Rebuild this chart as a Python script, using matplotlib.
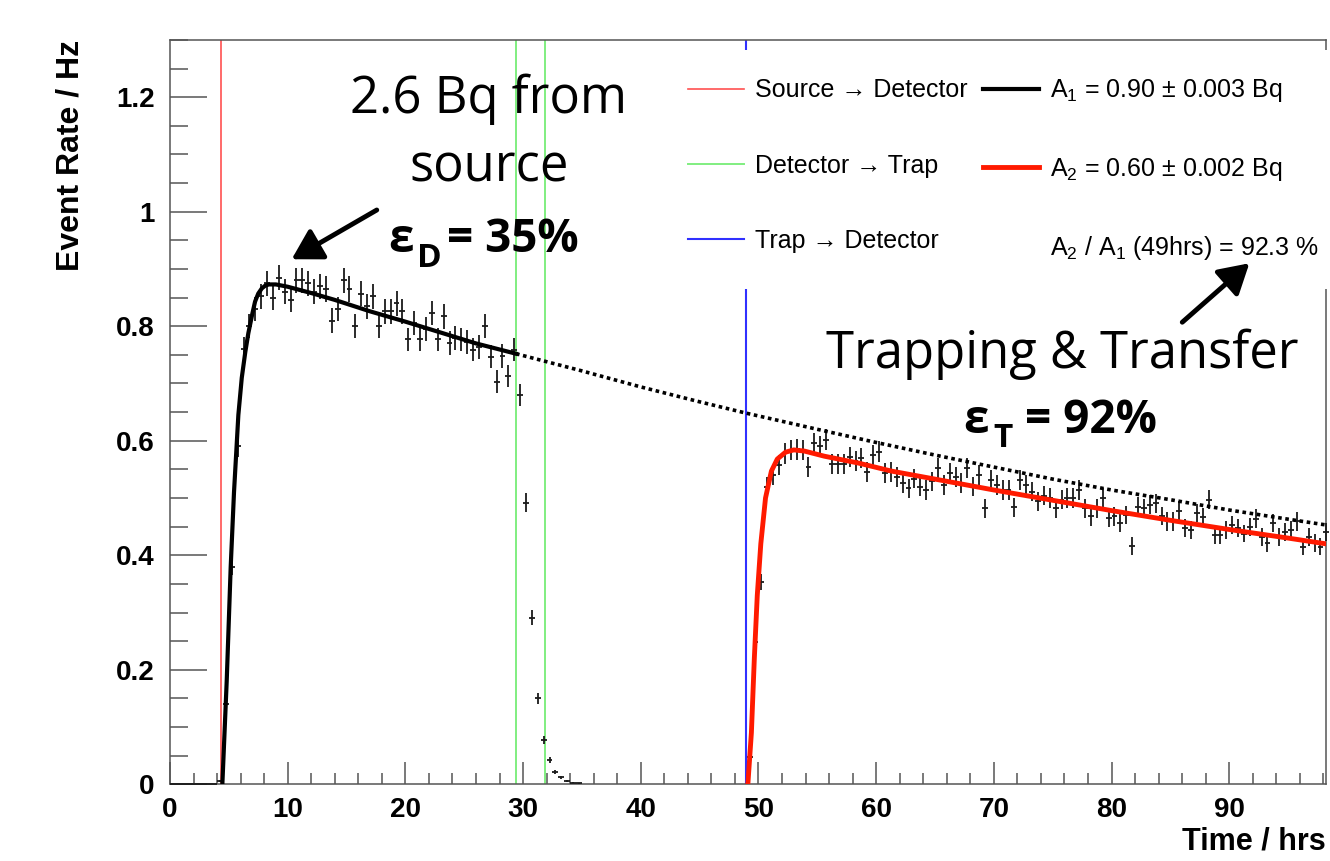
import numpy as np
import matplotlib
matplotlib.use('Agg')
import matplotlib.pyplot as plt
from matplotlib.lines import Line2D
from matplotlib.ticker import MultipleLocator

plt.rcParams['font.family'] = ['Liberation Sans', 'DejaVu Sans']
plt.rcParams['mathtext.fontset'] = 'custom'
plt.rcParams['mathtext.rm'] = 'Liberation Sans'
plt.rcParams['mathtext.it'] = 'Liberation Sans:italic'
plt.rcParams['mathtext.bf'] = 'Liberation Sans:bold'

# ---- histogram data (0.5 hr bins, rate in Hz) ----
bin_width = 0.5
run1_first = 0.25
run1_rate = [0, 0, 0, 0, 0, 0, 0, 0,
             0.005, 0.14, 0.38, 0.59, 0.76, 0.80, 0.83, 0.852, 0.875, 0.85,
             0.885, 0.86, 0.846, 0.88, 0.88, 0.875, 0.86, 0.87, 0.865, 0.81,
             0.83, 0.88, 0.865, 0.80, 0.857, 0.835, 0.852, 0.80, 0.826, 0.826,
             0.84, 0.826, 0.777, 0.806, 0.777, 0.795, 0.823, 0.777, 0.817, 0.771,
             0.779, 0.777, 0.773, 0.759, 0.764, 0.80, 0.747, 0.703, 0.748, 0.713,
             0.759, 0.68, 0.492, 0.291, 0.150, 0.077, 0.042, 0.022, 0.012, 0.006,
             0.003, 0.002]
run2_first = 49.25
run2_rate = [0.048, 0.249, 0.354, 0.519, 0.540, 0.558, 0.578, 0.584, 0.585, 0.584,
             0.554, 0.596, 0.590, 0.602, 0.560, 0.560, 0.560, 0.572, 0.564, 0.570,
             0.546, 0.575, 0.581, 0.543, 0.546, 0.537, 0.526, 0.517, 0.534, 0.520,
             0.514, 0.529, 0.552, 0.523, 0.543, 0.537, 0.526, 0.552, 0.520, 0.540,
             0.482, 0.532, 0.523, 0.514, 0.514, 0.484, 0.532, 0.523, 0.511, 0.494,
             0.504, 0.500, 0.482, 0.497, 0.500, 0.500, 0.514, 0.482, 0.468, 0.482,
             0.500, 0.465, 0.468, 0.456, 0.470, 0.416, 0.485, 0.482, 0.488, 0.491,
             0.469, 0.459, 0.459, 0.478, 0.447, 0.444, 0.474, 0.467, 0.497, 0.435,
             0.435, 0.444, 0.453, 0.447, 0.438, 0.450, 0.464, 0.432, 0.421, 0.456,
             0.432, 0.441, 0.444, 0.459, 0.415, 0.432, 0.421, 0.415, 0.441]

# ---- fitted curves ----
fit1_t = [4.45, 4.82, 5.16, 5.44, 5.81, 6.1, 6.4, 6.66, 7.0, 7.23, 7.5, 7.8, 8.1,
          8.4, 9.0, 10, 12, 14, 17, 20, 23, 26, 29.4]
fit1_r = [0.0, 0.18, 0.38, 0.51, 0.645, 0.71, 0.755, 0.788, 0.822, 0.843, 0.857,
          0.866, 0.871, 0.873, 0.873, 0.869, 0.858, 0.846, 0.826, 0.808, 0.789,
          0.770, 0.752]
extrap_t = [29.4, 35, 40, 45, 49, 55, 60, 65, 70, 75, 80, 85, 90, 95, 98.2]
extrap_r = [0.752, 0.722, 0.694, 0.668, 0.648, 0.620, 0.597, 0.575, 0.554, 0.533,
            0.514, 0.497, 0.479, 0.463, 0.453]
fit2_t = [49.1, 49.4, 49.65, 49.9, 50.2, 50.6, 51.1, 51.6, 52.3, 53.0, 53.9, 55.6,
          58.5, 61.3, 65, 70, 75, 80, 85, 90, 95, 98.2]
fit2_r = [0.0, 0.09, 0.22, 0.33, 0.42, 0.50, 0.547, 0.568, 0.580, 0.584, 0.582,
          0.573, 0.561, 0.547, 0.533, 0.514, 0.496, 0.478, 0.461, 0.445, 0.430,
          0.420]

# transfer times
t_source = 4.35
t_det_to_trap = [29.4, 31.9]
t_trap_to_det = 48.95

xticks = [0, 10, 20, 30, 40, 50, 60, 70, 80, 90]
yticks = [0, 0.2, 0.4, 0.6, 0.8, 1.0, 1.2]
ytick_labels = ['0', '0.2', '0.4', '0.6', '0.8', '1', '1.2']

fig = plt.figure(figsize=(13.3, 8.61), dpi=100)
ax = fig.add_axes([0.1278, 0.0891, 0.869, 0.8645])

# vertical marker lines
ax.axvline(t_source, color='#ff5050', lw=1.2, zorder=1)
for t in t_det_to_trap:
    ax.axvline(t, color='#80ee80', lw=1.4, zorder=1)
ax.axvline(t_trap_to_det, color='#3030ff', lw=1.5, zorder=1)

# histogram with errors
for first, rate in [(run1_first, run1_rate), (run2_first, run2_rate)]:
    rate = np.array(rate)
    t = first + bin_width * np.arange(len(rate))
    nsec = bin_width * 3600
    err = np.sqrt(rate * nsec) / nsec
    eb = ax.errorbar(t, rate, xerr=bin_width / 2, yerr=err, fmt='none',
                     ecolor='#1a1a1a', elinewidth=1.3, zorder=2.6)
    for col in eb.lines[2]:
        col.set_clip_on(False)

# fits
ax.plot(fit1_t, fit1_r, color='black', lw=3.0, zorder=3)
ax.plot(extrap_t, extrap_r, color='black', lw=2.6, ls=(0, (1, 1)), zorder=3)
ax.plot(fit2_t, fit2_r, color='#ff1a00', lw=3.5, zorder=3)

ax.set_xlim(0, 98.2)
ax.set_ylim(0, 1.3)

ax.set_xticks(xticks)
ax.set_yticks(yticks, ytick_labels)
ax.xaxis.set_minor_locator(MultipleLocator(2))
ax.yaxis.set_minor_locator(MultipleLocator(0.05))
ax.tick_params(which='both', direction='in', top=False, right=False,
               color='#555555', width=1.1, labelsize=20)
ax.tick_params(axis='y', which='major', length=26.6, pad=11)
ax.tick_params(axis='y', which='minor', length=13)
ax.tick_params(axis='x', which='major', length=15.8, pad=9)
ax.tick_params(axis='x', which='minor', length=8)
for lab in ax.get_xticklabels() + ax.get_yticklabels():
    lab.set_fontweight('bold')
for sp in ax.spines.values():
    sp.set_color('#555555')
    sp.set_linewidth(1.1)

ax.set_xlabel('Time / hrs', loc='right', fontsize=22, fontweight='bold', labelpad=3)
ax.set_ylabel('Event Rate / Hz', loc='top', fontsize=23, fontweight='bold', labelpad=22)

# legend
handles = [Line2D([], [], color='#ff5050', lw=1.2),
           Line2D([], [], color='#80ee80', lw=1.4),
           Line2D([], [], color='#3030ff', lw=1.5),
           Line2D([], [], color='black', lw=3.0),
           Line2D([], [], color='#ff1a00', lw=3.5),
           Line2D([], [], color='none')]
labels = ['Source \u2192 Detector', 'Detector \u2192 Trap', 'Trap \u2192 Detector',
          'A$_1$ = 0.90 \u00b1 0.003 Bq',
          'A$_2$ = 0.60 \u00b1 0.002 Bq',
          'A$_2$ / A$_1$ (49hrs) = 92.3 %']
leg = ax.legend(handles, labels, ncol=2, loc='upper left',
                bbox_to_anchor=(0.424, 0.9866), borderaxespad=0, borderpad=1.1,
                fontsize=18, handlelength=2.24, handletextpad=0.44,
                columnspacing=0.64, labelspacing=2.05, frameon=True,
                fancybox=False, framealpha=1, facecolor='white', edgecolor='none')

# slide annotations
big = ['Open Sans', 'DejaVu Sans']
arrow = dict(arrowstyle='-|>,head_length=0.6,head_width=0.35', lw=3.5,
             color='black', mutation_scale=30, shrinkA=0, shrinkB=0)
ax.text(27.1, 1.172, '2.6 Bq from', ha='center', va='baseline', fontsize=36.5, family=big)
ax.text(27.1, 1.052, 'source', ha='center', va='baseline', fontsize=36.5, family=big)
ax.text(18.53, 0.9296, '\u03b5', ha='left', va='baseline', fontsize=33, family=big, fontweight='bold')
ax.text(20.95, 0.9034, 'D', ha='left', va='baseline', fontsize=24, family=big, fontweight='bold')
ax.text(23.5, 0.9296, '= 35%', ha='left', va='baseline', fontsize=33, family=big, fontweight='bold')
ax.annotate('', xy=(10.34, 0.917), xytext=(17.57, 1.003), arrowprops=arrow, zorder=10)

ax.text(75.85, 0.727, 'Trapping & Transfer', ha='center', va='baseline', fontsize=36.5, family=big)
ax.text(67.4, 0.6135, '\u03b5', ha='left', va='baseline', fontsize=33, family=big, fontweight='bold')
ax.text(69.95, 0.5891, 'T', ha='left', va='baseline', fontsize=24, family=big, fontweight='bold')
ax.text(72.67, 0.6135, '= 92%', ha='left', va='baseline', fontsize=33, family=big, fontweight='bold')
ax.annotate('', xy=(91.71, 0.91), xytext=(86.01, 0.807), arrowprops=arrow, zorder=10)

fig.savefig('out.png', dpi=100)
